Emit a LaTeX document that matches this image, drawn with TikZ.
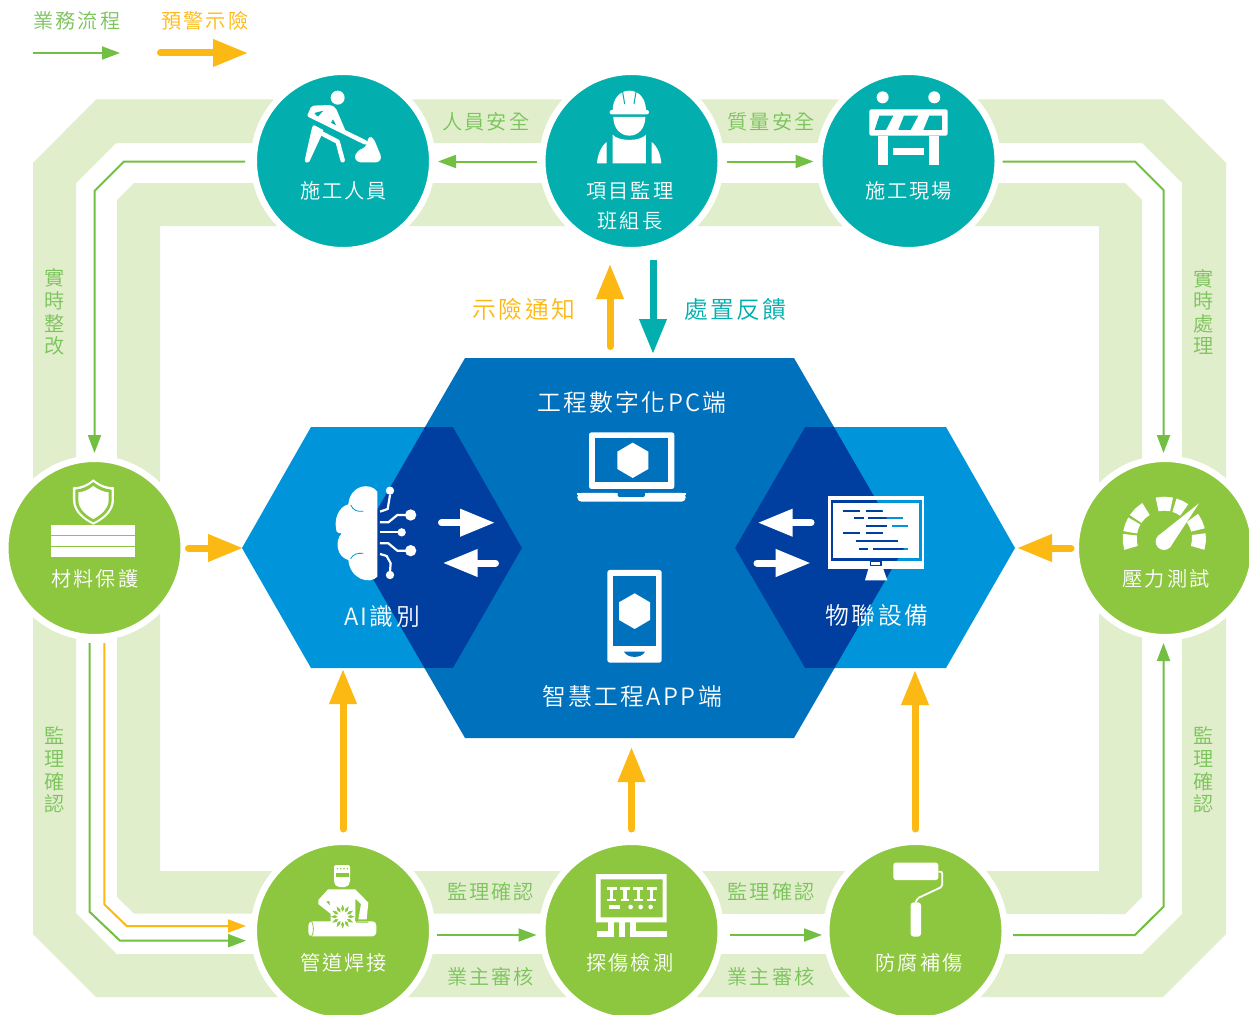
\documentclass[tikz,border=0pt]{standalone}
\usepackage{fontspec}
\usetikzlibrary{arrows.meta}
\newfontfamily\cjk[LetterSpace=10]{Noto Sans CJK TC DemiLight}
\definecolor{band}{HTML}{E1EECB}
\definecolor{flowg}{HTML}{72BF44}
\definecolor{warn}{HTML}{FDB913}
\definecolor{teal}{HTML}{02AFAE}
\definecolor{leaf}{HTML}{8DC63F}
\definecolor{hexc}{HTML}{0071BC}
\definecolor{hexs}{HTML}{0095DA}
\definecolor{hexd}{HTML}{003F9F}
\definecolor{txtg}{HTML}{7AC35A}
\tikzset{
  hub/.style={circle,minimum size=178.5pt,inner sep=0pt,outer sep=5.75pt,draw=white,line width=6.5pt},
  tealhub/.style={hub,fill=teal},
  leafhub/.style={hub,fill=leaf},
  lab/.style={font=\fontsize{20.2}{22}\cjk,text=white,inner sep=0pt},
  bandlab/.style={lab,text=txtg},
  sidelab/.style={lab,text=txtg,align=center,font=\fontsize{20.2}{22.6}\cjk},
  biglab/.style={lab,font=\fontsize{23.8}{26}\cjk},
  warnlab/.style={biglab,text=warn},
  flow/.style={draw=flowg,line width=2pt,-{Triangle[length=18pt,width=13pt]}},
  flowy/.style={draw=warn,line width=2pt,-{Triangle[length=18pt,width=13pt]}},
  fat/.style={line width=7pt,line cap=round,-{Triangle[length=35pt,width=26pt]}},
}
\newcommand{\hexC}{(465,358) -- (794,358) -- (904,548) -- (794,738) -- (465,738) -- (355,548) -- cycle}
\newcommand{\hexL}{(311,427) -- (453,427) -- (522,548) -- (453,668) -- (311,668) -- (242,548) -- cycle}
\newcommand{\hexR}{(805,427) -- (946,427) -- (1015,548) -- (946,668) -- (805,668) -- (735,548) -- cycle}
\newcommand{\monlines}[1]{%
  \draw[#1,line width=2.4pt] (276,64) rectangle (542,238);
  \draw[#1,line width=2.2pt]
    (310,92)--(360,92) (377,92)--(430,92)
    (342,115)--(372,115) (385,115)--(490,115)
    (377,138)--(440,138) (457,138)--(505,138)
    (310,160)--(360,160) (377,160)--(430,160)
    (347,183)--(475,183)
    (357,207)--(385,207) (400,207)--(505,207);
  \fill[#1] (390,243) rectangle (425,258);
}
\begin{document}
\begin{tikzpicture}[x=1pt,y=-1pt]
\clip (0,0) rectangle (1249,1014);
\fill[white] (0,0) rectangle (1249,1014);
% bands
\fill[band,even odd rule]
  (96,99.5) -- (1163,99.5) -- (1226,163) -- (1226,934) -- (1163,997) -- (96,997) -- (33,934) -- (33,163) -- cycle
  (116,143) -- (1142,143) -- (1182,183) -- (1182,914) -- (1142,954) -- (116.5,954) -- (76,913) -- (76,183) -- cycle;
\fill[band,even odd rule]
  (134,183) -- (1125,183) -- (1142,200) -- (1142,897) -- (1125,914) -- (134,913.5) -- (117,897) -- (117,200) -- cycle
  (160,226) -- (1099,226) -- (1099,871) -- (160,871) -- cycle;
% hubs
\node[tealhub] (c1) at (343,161) {};
\node[tealhub] (c2) at (631.5,161) {};
\node[tealhub] (c3) at (908.5,161) {};
\node[leafhub] (c4) at (94.5,548) {};
\node[leafhub] (c6) at (1165,548) {};
\node[leafhub] (c7) at (343,931) {};
\node[leafhub] (c8) at (631.5,931) {};
\node[leafhub] (c9) at (915.5,931) {};
% hexes
\fill[hexc] \hexC;
\fill[hexs] \hexL;
\fill[hexs] \hexR;
\begin{scope}
  \clip \hexC;
  \fill[hexd] \hexL;
  \fill[hexd] \hexR;
\end{scope}
% named ends
\coordinate (xL) at (94.5,300);
\coordinate (xR) at (1163.5,300);
\coordinate (y1) at (300,161.5);
\coordinate (y2) at (300,935);
\coordinate (gA) at (89.5,700);
\coordinate (oA) at (104.3,700);
\coordinate (gB) at (200,940.7);
\coordinate (oB) at (200,926);
\coordinate (hexTopA) at (610,346.5);
\coordinate (c2a) at (610,264);
\coordinate (c2b) at (653,260);
\coordinate (hexTopB) at (653,354);
\coordinate (c4e) at (188.5,548);
\coordinate (hexLw) at (243,548);
\coordinate (c6w) at (1071,548);
\coordinate (hexRe) at (1017,548);
\coordinate (c7n) at (343,829);
\coordinate (hexLs) at (343,669);
\coordinate (c8n) at (631.5,829);
\coordinate (hexCs) at (631.5,747);
\coordinate (c9n) at (915,829);
\coordinate (hexRs) at (915,670);
\coordinate (legG1) at (33,53);
\coordinate (legG2) at (120,53);
\coordinate (legO1) at (160.5,53);
\coordinate (legO2) at (248,53);
% flow connectors
\draw[flow,shorten <=3pt] (c1.west |- y1) -- (124,161.5) -- (94.5,191) -- (xL |- c4.north);
\draw[flow,shorten <=-1pt] (c3.east |- y1) -- (1135,161.5) -- (1163.5,190) -- (xR |- c6.north);
\draw[flow] (c2.west |- y1) -- (c1.east |- y1);
\draw[flow] (c2.east |- y1) -- (c3.west |- y1);
\draw[flow,shorten >=2pt] (gA |- c4.south) -- (89.5,911.7) -- (120,940.7) -- (c7.west |- gB);
\draw[flowy,shorten >=2pt] (oA |- c4.south) -- (104.3,904.3) -- (126.7,926) -- (c7.west |- oB);
\draw[flow,shorten <=-1pt] (c7.east |- y2) -- (c8.west |- y2);
\draw[flow,shorten <=3.5pt,shorten >=-1.5pt] (c8.east |- y2) -- (c9.west |- y2);
\draw[flow,shorten <=2.5pt] (c9.east |- y2) -- (1135,935) -- (1163.5,906.7) -- (xR |- c6.south);
\draw[flow] (legG1) -- (legG2);
\draw[fat,draw=warn,fill=warn] (legO1) -- (legO2);
\draw[fat,draw=warn] (hexTopA) -- (c2a);
\draw[fat,draw=teal,line cap=butt] (c2b) -- (hexTopB);
\draw[fat,draw=warn] (c4e) -- (hexLw);
\draw[fat,draw=warn] (c6w) -- (hexRe);
\draw[fat,draw=warn] (c7n) -- (hexLs);
\draw[fat,draw=warn] (c8n) -- (hexCs);
\draw[fat,draw=warn] (c9n) -- (hexRs);
% white arrows in hex
\coordinate (w1a) at (441.5,522.7); \coordinate (w1b) at (495,522.7);
\coordinate (w2a) at (495.5,563); \coordinate (w2b) at (442.7,563);
\coordinate (w3a) at (811,522.7); \coordinate (w3b) at (757.7,522.7);
\coordinate (w4a) at (757,563); \coordinate (w4b) at (810.7,563);
\draw[fat,draw=white] (w1a) -- (w1b);
\draw[fat,draw=white] (w2a) -- (w2b);
\draw[fat,draw=white] (w3a) -- (w3b);
\draw[fat,draw=white] (w4a) -- (w4b);
% texts
\node[lab,text=txtg] (t0) at (77,21) {業務流程};
\node[lab,text=warn] (t00) at (205,21) {預警示險};
\node[lab] (t1) at (343.5,190.5) {施工人員};
\node[lab] (t2) at (630,190.5) {項目監理};
\node[lab] (t2b) at (630,220.5) {班組長};
\node[lab] (t3) at (908.5,190.5) {施工現場};
\node[lab] (t4) at (95,578.5) {材料保護};
\node[lab] (t6) at (1166,578.5) {壓力測試};
\node[lab] (t7) at (343.5,962.5) {管道焊接};
\node[lab] (t8) at (630,962.5) {探傷檢測};
\node[lab] (t9) at (919,962.5) {防腐補傷};
\node[bandlab] (b1) at (486,121.5) {人員安全};
\node[bandlab] (b2) at (771,121.5) {質量安全};
\node[bandlab] (b3) at (490.5,891.5) {監理確認};
\node[bandlab] (b4) at (771,891.5) {監理確認};
\node[bandlab] (b5) at (490.5,976.5) {業主審核};
\node[bandlab] (b6) at (771,976.5) {業主審核};
\node[sidelab] (s1) at (54.5,312) {實\\時\\整\\改};
\node[sidelab] (s2) at (1203.5,312) {實\\時\\處\\理};
\node[sidelab] (s3) at (54.5,770) {監\\理\\確\\認};
\node[sidelab] (s4) at (1203.5,770) {監\\理\\確\\認};
\node[warnlab] (w1) at (524,309.5) {示險通知};
\node[biglab,text=teal] (w2) at (735.5,309.5) {處置反饋};
\node[biglab] (h1) at (632,402) {工程數字化PC端};
\node[biglab] (h2) at (382,616) {AI識別};
\node[biglab] (h3) at (877,616) {物聯設備};
\node[biglab] (h4) at (632,696) {智慧工程APP端};
% worker
\begin{scope}[shift={(295,85)},scale=0.3333,white]
  \fill (128,38) circle (21);
  \fill[rounded corners=2pt] (38,88) -- (50,62) -- (108,60) -- (122,68) -- (152,138) -- (60,98) -- cycle;
  \fill[teal] (58,84) -- (85,77) -- (68,96) -- cycle;
  \fill[teal] (114,103) -- (124,122) -- (108,114) -- cycle;
  \draw[line width=4.5pt,line cap=round] (44,90) -- (210,172);
  \fill[rounded corners=3pt] (222,153) -- (236,160) -- (260,218) -- (252,232) -- (188,232) -- (177,216) -- (190,196) -- (212,186) -- cycle;
  \fill (60,122) -- (85,135) -- (80,150) -- (43,230) -- (30,228) -- cycle;
  \draw[line width=4.5pt,line cap=round,line join=round] (70,140) -- (128,170) -- (143,226);
  \draw[line width=4.5pt,line cap=round] (58,128) -- (36,226);
\end{scope}
% supervisor
\begin{scope}[shift={(530,70)},scale=0.3333,white]
  \fill (248,122) .. controls (248,85) and (270,62) .. (298,62) .. controls (326,62) and (348,85) .. (348,122) -- cycle;
  \fill[rounded corners=2pt] (239,120) rectangle (357,133);
  \draw[teal,line width=1pt] (278,66) -- (284,102) (318,66) -- (312,102);
  \fill (250,141) -- (346,141) .. controls (346,175) and (325,197) .. (298,197) .. controls (271,197) and (250,175) .. (250,141) -- cycle;
  \fill (248,194) .. controls (265,215) and (331,215) .. (348,194) -- (348,280) -- (248,280) -- cycle;
  \fill (230,216) .. controls (212,230) and (203,255) .. (201,280) -- (230,280) -- cycle;
  \fill (365,216) .. controls (383,230) and (392,255) .. (394,280) -- (365,280) -- cycle;
\end{scope}
% barrier
\begin{scope}[shift={(530,70)},scale=0.3333,white]
  \fill (1058,82) circle (18);
  \fill (1213,82) circle (18);
  \fill[rounded corners=2pt] (1018,118) rectangle (1253,197);
  \fill[teal] (1048,137) -- (1090,137) -- (1068,180) -- (1034,180) -- cycle;
  \fill[teal] (1122,137) -- (1165,137) -- (1142,180) -- (1105,180) -- cycle;
  \fill[teal] (1198,137) -- (1236,137) -- (1236,180) -- (1180,180) -- cycle;
  \fill (1043,197) rectangle (1073,285);
  \fill (1197,197) rectangle (1227,285);
  \fill (1090,235) rectangle (1183,255);
\end{scope}
% shield + plates
\begin{scope}[shift={(0,450)},scale=0.3333]
  \fill[white] (280,88) .. controls (300,105) and (322,112) .. (342,112) -- (342,150) .. controls (342,188) and (305,212) .. (280,224) .. controls (255,212) and (219,188) .. (219,150) -- (219,112) .. controls (239,112) and (260,105) .. (280,88) -- cycle;
  \fill[leaf] (280,96) .. controls (298,111) and (318,118) .. (335,119) -- (335,150) .. controls (335,184) and (302,206) .. (280,217) .. controls (258,206) and (226,184) .. (226,150) -- (226,119) .. controls (243,118) and (263,111) .. (280,96) -- cycle;
  \fill[white] (280,108) .. controls (296,120) and (312,126) .. (326,127) -- (326,150) .. controls (326,178) and (298,198) .. (280,207) .. controls (262,198) and (235,178) .. (235,150) -- (235,127) .. controls (249,126) and (265,120) .. (280,108) -- cycle;
  \fill[white] (153,225) rectangle (405,255);
  \fill[white] (153,258) rectangle (405,288);
  \fill[white] (153,291) rectangle (405,321);
\end{scope}
% gauge
\begin{scope}[shift={(1070,450)},scale=0.3333,white]
  \foreach \aa/\ab in {174/196,150/170,122/146,78/102,55/73,14/36,-16/7}{
    \fill ({283+125*cos(\aa)},{265-125*sin(\aa)}) -- ({283+125*cos((\aa+\ab)/2)},{265-125*sin((\aa+\ab)/2)}) -- ({283+125*cos(\ab)},{265-125*sin(\ab)}) -- ({283+83*cos(\ab)},{265-83*sin(\ab)}) -- ({283+83*cos((\aa+\ab)/2)},{265-83*sin((\aa+\ab)/2)}) -- ({283+83*cos(\aa)},{265-83*sin(\aa)}) -- cycle;
  }
  \fill (282,275) circle (25);
  \fill (387,160) -- (300.5,291.7) -- (263.5,258.3) -- cycle;
\end{scope}
% brain
\begin{scope}[shift={(320,470)},scale=0.3333]
  \fill[white] (172,65) .. controls (150,35) and (90,45) .. (85,103) .. controls (55,110) and (40,150) .. (50,185) .. controls (55,190) and (60,190) .. (65,190) .. controls (42,215) and (52,262) .. (85,270) .. controls (90,328) and (150,345) .. (172,320) -- cycle;
  \draw[hexs,line width=0.8pt] (92,105) .. controls (100,122) and (112,125) .. (130,124);
  \draw[hexs,line width=0.8pt] (92,266) .. controls (100,252) and (112,249) .. (130,250);
  \draw[white,line width=2.2pt] (180,125) -- (203,117) -- (210,75);
  \draw[white,line width=2.2pt] (180,157) -- (205,157) -- (232,135) -- (260,135);
  \draw[white,line width=2.2pt] (180,187) -- (235,187);
  \draw[white,line width=2.2pt] (180,220) -- (205,220) -- (232,242) -- (260,242);
  \draw[white,line width=2.2pt] (180,252) -- (200,258) -- (212,280) -- (210,305);
  \fill[white] (210,62) circle (12.5);
  \fill[white] (272,135) circle (17);
  \fill[white] (245,187) circle (12.5);
  \fill[white] (272,242) circle (17);
  \fill[white] (210,315) circle (12.5);
\end{scope}
% monitor
\begin{scope}[shift={(740,480)},scale=0.3333]
  \fill[white] (263,48) rectangle (553,267);
  \fill[white] (385,267) -- (430,267) -- (442,301) -- (375,301) -- cycle;
  \monlines{hexs}
\end{scope}
\begin{scope}
  \clip \hexC;
  \begin{scope}[shift={(740,480)},scale=0.3333]
    \monlines{hexd}
  \end{scope}
\end{scope}
\begin{scope}[shift={(740,480)},scale=0.3333]
  \fill[white] (394,247) rectangle (421,254);
\end{scope}
% laptop and phone
\begin{scope}[shift={(560,420)},scale=0.3333]
  \fill[white,rounded corners=2.5pt] (87,37) rectangle (343,207);
  \fill[hexc] (105,55) rectangle (325,187);
  \fill[white] (218,68) -- (265,95) -- (265,147) -- (218,174) -- (172,147) -- (172,95) -- cycle;
  \fill[white,rounded corners=4pt] (52,219) -- (377,219) -- (377,245) -- (52,245) -- cycle;
  \fill[white] (52,219) rectangle (377,225);
  \fill[hexc,rounded corners=2pt] (173,215) -- (255,215) -- (255,231) -- (173,231) -- cycle;
  \fill[hexc] (165,214) rectangle (263,219);
  \fill[white,rounded corners=2.5pt] (142,450) rectangle (305,728);
  \fill[hexc] (160,468) rectangle (288,677);
  \fill[white] (224,520) -- (270,547) -- (270,600) -- (224,627) -- (177,600) -- (177,547) -- cycle;
  \fill[hexc] (192,695) -- (255,695) .. controls (245,716) and (202,716) .. (192,695) -- cycle;
\end{scope}
% welder
\begin{scope}[shift={(300,860)},scale=0.3333,white]
  \fill[rounded corners=2pt] (102,15) -- (150,15) -- (150,70) -- (140,81) -- (112,81) -- (102,70) -- cycle;
  \fill[leaf] (107,38) rectangle (147,52);
  \foreach \q in {112,122,132,142} \fill[leaf] (\q,26) circle (2.5);
  \fill (84,88) -- (166,88) -- (205,128) -- (200,178) -- (175,178) -- (183,132) -- (166,116) -- (166,190) -- (92,190) -- (92,150) -- (88,122) -- (78,125) -- (112,160) -- (100,168) -- (55,132) -- (55,120) -- cycle;
  \fill[rounded corners=4pt] (25,184) rectangle (229,229);
  \draw[leaf,line width=0.8pt] (35,184) .. controls (42,198) and (42,215) .. (35,229);
  \draw[leaf,line width=1pt] (166,175) -- (170,186) -- (205,186);
  \foreach \ang in {0,30,...,330}
    \fill[leaf] ({128+36*cos(\ang)},{170+36*sin(\ang)}) -- ({128+20*cos(\ang+18)},{170+20*sin(\ang+18)}) -- ({128+20*cos(\ang-18)},{170+20*sin(\ang-18)}) -- cycle;
  \fill[leaf] (128,170) circle (21);
  \foreach \ang in {15,45,...,345}
    \fill ({128+28*cos(\ang)},{170+28*sin(\ang)}) -- ({128+12*cos(\ang+22)},{170+12*sin(\ang+22)}) -- ({128+12*cos(\ang-22)},{170+12*sin(\ang-22)}) -- cycle;
  \fill (128,170) circle (13);
\end{scope}
% test panel
\begin{scope}[shift={(250,840)},scale=0.3333,white]
  \fill[even odd rule] (1038,102) rectangle (1250,247) (1052,118) rectangle (1238,232);
  \foreach \q in {1085,1125,1165,1205}{
    \fill (\q-15,140) rectangle (\q+15,150);
    \fill (\q-5,150) rectangle (\q+5,178);
    \fill (\q-13,178) rectangle (\q+13,183);
  }
  \fill (1078,195) rectangle (1110,207);
  \foreach \q in {1142,1172,1202} \fill (\q,201) circle (7);
  \fill (1075,247) rectangle (1092,290);
  \fill (1040,272) rectangle (1092,290);
  \fill (1107,247) rectangle (1124,290);
  \fill (1140,247) rectangle (1157,290);
  \fill (1140,272) rectangle (1250,290);
\end{scope}
% roller
\begin{scope}[shift={(820,840)},scale=0.3333,white]
  \fill[rounded corners=2.5pt] (220,68) rectangle (355,120);
  \draw[line width=1.8pt,rounded corners=2pt] (355,95) -- (367,95) -- (367,140) -- (292,175) -- (287,187);
  \fill[rounded corners=3pt] (272,187) rectangle (303,290);
\end{scope}
\end{tikzpicture}
\end{document}
